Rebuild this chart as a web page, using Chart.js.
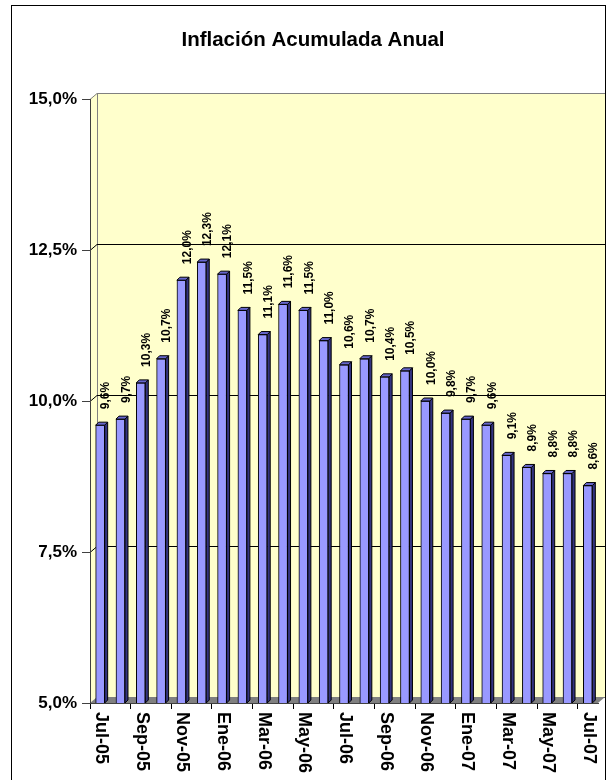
<!DOCTYPE html>
<html>
<head>
<meta charset="utf-8">
<script src="https://cdn.jsdelivr.net/npm/chart.js@4.4.0/dist/chart.umd.min.js"></script>
<style>
  body { margin: 0; background: #fff; }
  canvas { display: block; }
</style>
</head>
<body>
<canvas id="inflChart" width="616" height="780"></canvas>
<script>
// datos: inflación acumulada anual (%)
const meses = ["Jul-05","Ago-05","Sep-05","Oct-05","Nov-05","Dic-05","Ene-06","Feb-06","Mar-06","Abr-06","May-06","Jun-06",
  "Jul-06","Ago-06","Sep-06","Oct-06","Nov-06","Dic-06","Ene-07","Feb-07","Mar-07","Abr-07","May-07","Jun-07","Jul-07"];
const inflacion = [9.6, 9.7, 10.3, 10.7, 12.0, 12.3, 12.1, 11.5, 11.1, 11.6, 11.5, 11.0,
  10.6, 10.7, 10.4, 10.5, 10.0, 9.8, 9.7, 9.6, 9.1, 8.9, 8.8, 8.8, 8.6];
const yMin = 5, yMax = 15, yPaso = 2.5;
const titulo = "Inflación Acumulada Anual";

const fmtPct = v => v.toFixed(1).replace('.', ',') + '%';
const FUENTE = "'Liberation Sans', Arial, sans-serif";
Chart.defaults.font.family = FUENTE;

const prof = 7, profY = 6;   // profundidad del "3D"

// paredes, piso y lineas de la cuadricula (detras de todo)
const fondo3d = {
  id: 'fondo3d',
  beforeDraw(chart) {
    const { ctx, chartArea: a, scales: { y } } = chart;
    ctx.save();
    // pared izquierda
    ctx.fillStyle = '#FFFFCC';
    ctx.strokeStyle = '#808080';
    ctx.lineWidth = 1;
    ctx.beginPath();
    ctx.moveTo(a.left, a.top);
    ctx.lineTo(a.left + prof, a.top - profY);
    ctx.lineTo(a.left + prof, a.bottom - profY);
    ctx.lineTo(a.left, a.bottom);
    ctx.closePath();
    ctx.fill();
    // pared del fondo
    ctx.fillRect(a.left + prof, a.top - profY, a.right - a.left, a.bottom - a.top);
    ctx.strokeRect(a.left + prof + 0.5, a.top - profY + 0.5, a.right - a.left, a.bottom - a.top);
    // lineas de cuadricula
    for (let v = yMin + yPaso; v < yMax; v += yPaso) {
      const py = Math.round(y.getPixelForValue(v)) + 0.5;
      ctx.strokeStyle = '#000';
      ctx.beginPath();
      ctx.moveTo(a.left, py);
      ctx.lineTo(a.left + prof, py - profY);
      ctx.lineTo(a.right + prof, py - profY);
      ctx.stroke();
    }
    // borde superior de la pared izquierda
    ctx.strokeStyle = '#808080';
    ctx.beginPath();
    ctx.moveTo(a.left, a.top + 0.5);
    ctx.lineTo(a.left + prof, a.top - profY + 0.5);
    ctx.stroke();
    // piso
    ctx.fillStyle = '#808080';
    ctx.beginPath();
    ctx.moveTo(a.left, a.bottom);
    ctx.lineTo(a.left + prof, a.bottom - profY);
    ctx.lineTo(a.right + prof, a.bottom - profY);
    ctx.lineTo(a.right, a.bottom);
    ctx.closePath();
    ctx.fill();
    ctx.restore();
  }
};

// caras laterales de las barras, etiquetas, eje X y titulo
const barras3d = {
  id: 'barras3d',
  afterDatasetsDraw(chart) {
    const ctx = chart.ctx;
    const a = chart.chartArea;
    const meta = chart.getDatasetMeta(0);
    const d = 3;
    ctx.save();
    meta.data.forEach((bar, i) => {
      const w = bar.width / 2;
      const base = Math.min(bar.base, a.bottom);
      // lado
      ctx.fillStyle = '#333380';
      ctx.strokeStyle = '#000';
      ctx.lineWidth = 1;
      ctx.beginPath();
      ctx.moveTo(bar.x + w, bar.y);
      ctx.lineTo(bar.x + w + d, bar.y - d);
      ctx.lineTo(bar.x + w + d, base - d);
      ctx.lineTo(bar.x + w, base);
      ctx.closePath();
      ctx.fill();
      ctx.stroke();
      // tapa
      ctx.fillStyle = '#6666CC';
      ctx.beginPath();
      ctx.moveTo(bar.x - w, bar.y);
      ctx.lineTo(bar.x - w + d, bar.y - d);
      ctx.lineTo(bar.x + w + d, bar.y - d);
      ctx.lineTo(bar.x + w, bar.y);
      ctx.closePath();
      ctx.fill();
      ctx.stroke();
      // etiqueta de valor
      ctx.save();
      ctx.translate(bar.x + 6, bar.y - 16);
      ctx.rotate(-Math.PI / 2);
      ctx.fillStyle = '#000';
      ctx.font = 'bold 12px ' + FUENTE;
      ctx.textAlign = 'left';
      ctx.textBaseline = 'middle';
      ctx.fillText(fmtPct(inflacion[i]), 0, 0);
      ctx.restore();
    });
    ctx.restore();
  },
  afterDraw(chart) {
    const { ctx, chartArea: a, scales: { x } } = chart;
    ctx.save();
    ctx.fillStyle = '#000';
    ctx.font = 'bold 18px ' + FUENTE;
    ctx.textAlign = 'left';
    ctx.textBaseline = 'middle';
    meses.forEach((m, i) => {
      if (i % 2) return;
      ctx.save();
      ctx.translate(x.getPixelForValue(i) + 1, a.bottom + 9);
      ctx.rotate(Math.PI / 2);
      ctx.fillText(m, 0, 0);
      ctx.restore();
    });
    // titulo
    ctx.font = 'bold 20.5px ' + FUENTE;
    ctx.textAlign = 'center';
    ctx.fillText(titulo, 313, 40);
    // marco del grafico
    ctx.strokeStyle = '#000';
    ctx.lineWidth = 1;
    ctx.strokeRect(11.5, 5.5, 594, 800);
    ctx.restore();
  }
};

new Chart(document.getElementById('inflChart'), {
  type: 'bar',
  data: {
    labels: meses,
    datasets: [{
      data: inflacion,
      backgroundColor: '#9999FF',
      borderColor: '#000',
      borderWidth: 1,
      borderSkipped: false,
      barThickness: 9
    }]
  },
  options: {
    responsive: false,
    animation: false,
    devicePixelRatio: 1,
    layout: { padding: { left: 0, right: 18, top: 99, bottom: 0 } },
    plugins: {
      legend: { display: false },
      tooltip: { enabled: false },
      title: { display: false }
    },
    scales: {
      x: {
        offset: true,
        grid: {
          offset: true,
          drawOnChartArea: false,
          drawTicks: true,
          tickLength: 6,
          color: c => (c.index % 2 === 0 ? '#000' : 'rgba(0,0,0,0)')
        },
        border: { display: true, color: '#404040' },
        ticks: { display: false },
        afterFit: s => { s.height = 77; }
      },
      y: {
        min: yMin,
        max: yMax,
        ticks: {
          stepSize: yPaso,
          callback: v => fmtPct(v),
          color: '#000',
          font: { size: 17, weight: 'bold' },
          padding: 5
        },
        grid: { drawOnChartArea: false, tickLength: 8, color: '#404040' },
        border: { display: true, color: '#404040' },
        afterFit: s => { s.width = 90; }
      }
    }
  },
  plugins: [fondo3d, barras3d]
});
</script>
</body>
</html>
